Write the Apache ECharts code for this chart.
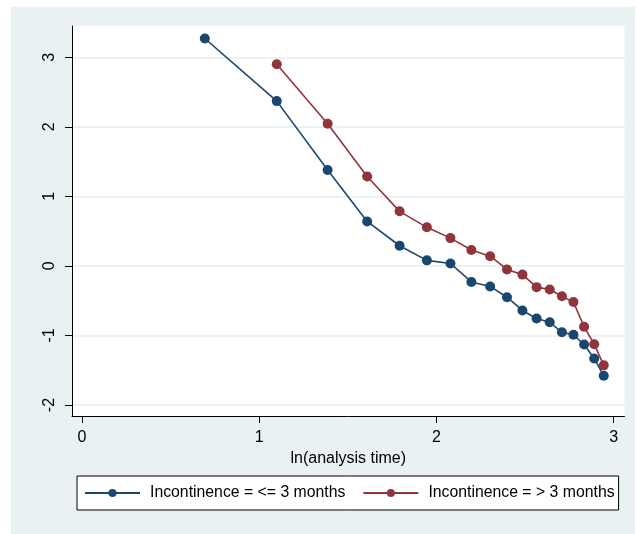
<!DOCTYPE html>
<html>
<head>
<meta charset="utf-8">
<script src="https://cdn.jsdelivr.net/npm/echarts@6/dist/echarts.min.js"></script>
<style>
html,body{margin:0;padding:0;background:#fff;}
#c{width:637px;height:534px;}
</style>
</head>
<body>
<div id="c"></div>
<script>
// ln(analysis time) values
const xLow = [0.693, 1.099, 1.386, 1.609, 1.792, 1.946, 2.079, 2.197, 2.303, 2.398, 2.485, 2.565, 2.639, 2.708, 2.773, 2.833, 2.890, 2.944];
const yLow = [3.27, 2.37, 1.38, 0.64, 0.29, 0.08, 0.035, -0.23, -0.295, -0.45, -0.64, -0.755, -0.81, -0.955, -0.99, -1.13, -1.33, -1.58];
const xHigh = [1.099, 1.386, 1.609, 1.792, 1.946, 2.079, 2.197, 2.303, 2.398, 2.485, 2.565, 2.639, 2.708, 2.773, 2.833, 2.890, 2.944];
const yHigh = [2.90, 2.045, 1.285, 0.785, 0.555, 0.40, 0.23, 0.14, -0.05, -0.125, -0.305, -0.34, -0.435, -0.52, -0.875, -1.125, -1.43];
const xTicks = [0, 1, 2, 3];
const yTicks = [-2, -1, 0, 1, 2, 3];
const seriesNames = ['Incontinence = <= 3 months', 'Incontinence = > 3 months'];
const xTitle = 'ln(analysis time)';

const pairs = (xs, ys) => xs.map((x, i) => [x, ys[i]]);
const FONT = 'Liberation Sans, Arial, sans-serif';

const chart = echarts.init(document.getElementById('c'), null, {renderer: 'canvas'});
chart.setOption({
  animation: false,
  backgroundColor: '#ffffff',
  graphic: [{
    type: 'rect', z: -10, silent: true,
    shape: {x: 11, y: 7, width: 624, height: 527},
    style: {fill: '#e9f1f3'}
  }],
  grid: {
    left: 72, top: 26, right: 12.5, bottom: 118,
    show: true, backgroundColor: '#ffffff', borderWidth: 0
  },
  xAxis: {
    type: 'value', min: -0.0564, max: 3.061,
    name: xTitle, nameLocation: 'middle', nameGap: 33,
    nameTextStyle: {fontFamily: FONT, fontSize: 16, color: '#000'},
    axisLine: {show: true, onZero: false, lineStyle: {color: '#000', width: 1}},
    axisTick: {show: true, length: 7, customValues: xTicks, lineStyle: {color: '#000'}},
    axisLabel: {customValues: xTicks, margin: 14, fontFamily: FONT, fontSize: 16, color: '#000'},
    splitLine: {show: false}
  },
  yAxis: {
    type: 'value', min: -2.158, max: 3.45,
    axisLine: {show: true, onZero: false, lineStyle: {color: '#000', width: 1}},
    axisTick: {show: true, length: 7, customValues: yTicks, lineStyle: {color: '#000'}},
    axisLabel: {customValues: yTicks, rotate: 90, margin: 14, fontFamily: FONT, fontSize: 16, color: '#000'},
    splitLine: {show: true, lineStyle: {color: '#e6eef1', width: 1.5}}
  },
  legend: {
    left: 77, top: 476,
    padding: [9, 4, 9, 7],
    itemWidth: 55, itemHeight: 10, itemGap: 17,
    borderColor: '#000', borderWidth: 1, backgroundColor: '#ffffff',
    textStyle: {fontFamily: FONT, fontSize: 15.8, color: '#000', padding: [0, 0, 0, 5]},
    data: seriesNames
  },
  series: [
    {
      name: seriesNames[0], type: 'line', data: pairs(xLow, yLow),
      symbol: 'circle', symbolSize: 10, color: '#1a476f',
      lineStyle: {width: 1.6, color: '#1a476f'}, itemStyle: {color: '#1a476f'}
    },
    {
      name: seriesNames[1], type: 'line', data: pairs(xHigh, yHigh),
      symbol: 'circle', symbolSize: 10, color: '#90353b',
      lineStyle: {width: 1.6, color: '#90353b'}, itemStyle: {color: '#90353b'}
    }
  ]
});
</script>
</body>
</html>
